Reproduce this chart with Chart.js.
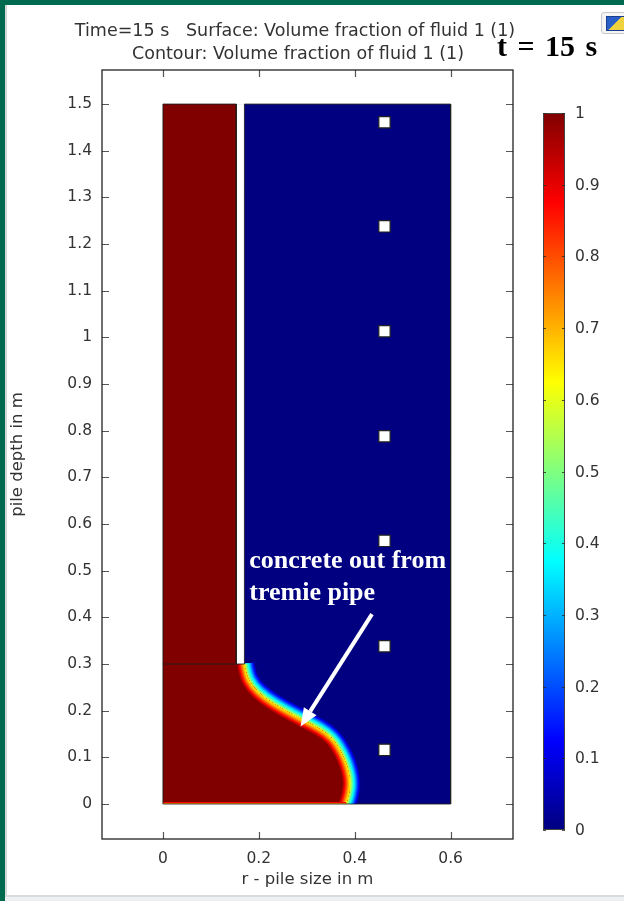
<!DOCTYPE html>
<html>
<head>
<meta charset="utf-8">
<script src="https://cdn.jsdelivr.net/npm/chart.js@4.4.1/dist/chart.umd.min.js"></script>
<style>
html, body { margin: 0; padding: 0; }
body { width: 624px; height: 901px; background: #006a4e; position: relative; overflow: hidden; font-family: "DejaVu Sans", sans-serif; }
#panel { position: absolute; left: 5px; top: 5px; width: 619px; height: 891px; background: #fff; border-left: 2px solid #d6d6d6; box-sizing: border-box; }
#foot { position: absolute; left: 5px; top: 895px; width: 619px; height: 6px; background: #eef0f2; border-top: 2px solid #d9dcdf; box-sizing: border-box; }
#chart { position: absolute; left: 0; top: 0; }
.title { position: absolute; width: 580px; text-align: center; white-space: pre; color: #333; font-size: 17.5px; line-height: 21px; }
#stamp { position: absolute; left: 497px; top: 31px; font: bold 30px "Liberation Serif", serif; line-height: 30px; word-spacing: 3px; color: #000; white-space: pre; }
#icon { position: absolute; left: 601px; top: 12px; width: 26px; height: 20px; border: 1px solid #c8c8c8; border-radius: 3px; background: #f4f4f4; }
#icon div { position: absolute; left: 4px; top: 3px; width: 18px; height: 13px; background: linear-gradient(135deg, #2a5fc8 0%, #2a5fc8 45%, #f0d23c 46%, #f0d23c 100%); border: 1px solid #1a3f90; }
</style>
</head>
<body>
<div id="panel"></div>
<div id="foot"></div>
<canvas id="chart" width="624" height="901"></canvas>
<div class="title" style="left:5px; top:20px;">Time=15 s   Surface: Volume fraction of fluid 1 (1)</div>
<div class="title" style="left:8px; top:43px;">Contour: Volume fraction of fluid 1 (1)</div>
<div id="stamp">t = 15 s</div>
<div id="icon"><div></div></div>
<script>
// axis ticks
const xTicks = [0, 0.2, 0.4, 0.6];
const yTicks = [0, 0.1, 0.2, 0.3, 0.4, 0.5, 0.6, 0.7, 0.8, 0.9, 1, 1.1, 1.2, 1.3, 1.4, 1.5];
const colorTicks = [0, 0.1, 0.2, 0.3, 0.4, 0.5, 0.6, 0.7, 0.8, 0.9, 1];

// pile geometry (m)
const pileR = 0.6;
const pileDepth = 1.5;
const pipeInnerR = 0.153;
const pipeOuterR = 0.17;
const pipeBottomZ = 0.3;

// concrete / water interface (0.6 contour), from pipe tip down to the base
const interfaceR = [0.170, 0.173, 0.186, 0.212, 0.250, 0.290, 0.328, 0.352, 0.366, 0.378, 0.387, 0.391, 0.388, 0.382];
const interfaceZ = [0.300, 0.278, 0.252, 0.227, 0.203, 0.181, 0.161, 0.142, 0.122, 0.098, 0.072, 0.045, 0.020, 0.000];

// point probes
const probeR = [0.462, 0.462, 0.462, 0.462, 0.462, 0.462, 0.462];
const probeZ = [0.116, 0.338, 0.564, 0.788, 1.013, 1.238, 1.461];

// annotation
const noteLines = ['concrete out from', 'tremie pipe'];
const noteAt = { r: 0.18, z: 0.506 };
const arrowFrom = { r: 0.436, z: 0.407 };
const arrowTo = { r: 0.287, z: 0.166 };

const textColor = '#333';
const tickFont = { family: 'DejaVu Sans', size: 15.5 };

function jet(v) {
    const c = t => Math.round(255 * Math.max(0, Math.min(1, t)));
    return 'rgb(' + c(1.5 - Math.abs(4 * v - 3)) + ',' + c(1.5 - Math.abs(4 * v - 2)) + ',' + c(1.5 - Math.abs(4 * v - 1)) + ')';
}

// smooth path through pixel points
function tracePath(ctx, pts) {
    ctx.moveTo(pts[0].x, pts[0].y);
    for (let i = 1; i < pts.length - 1; i++) {
        ctx.quadraticCurveTo(pts[i].x, pts[i].y, (pts[i].x + pts[i + 1].x) / 2, (pts[i].y + pts[i + 1].y) / 2);
    }
    ctx.lineTo(pts[pts.length - 1].x, pts[pts.length - 1].y);
}

// volume fraction field: water, concrete, smeared interface, pipe wall
const fieldPlugin = {
    id: 'field',
    beforeDatasetsDraw(chart) {
        const { ctx, scales: { x, y } } = chart;
        const X = v => x.getPixelForValue(v), Y = v => y.getPixelForValue(v);
        const iface = interfaceR.map((r, i) => ({ x: X(r), y: Y(interfaceZ[i]) }));
        ctx.save();
        ctx.beginPath();
        ctx.rect(X(0), Y(pileDepth), X(pileR) - X(0), Y(0) - Y(pileDepth));
        ctx.clip();
        ctx.fillStyle = jet(0);
        ctx.fillRect(X(0), Y(pileDepth), X(pileR) - X(0), Y(0) - Y(pileDepth));

        ctx.lineJoin = 'round';
        ctx.lineCap = 'butt';
        const bandOut = 11, bandIn = 8;
        for (let d = bandOut; d > 0; d -= 0.5) {
            ctx.strokeStyle = jet(0.62 * (1 - d / bandOut));
            ctx.lineWidth = 2 * d;
            ctx.beginPath();
            tracePath(ctx, iface);
            ctx.stroke();
        }
        ctx.beginPath();
        tracePath(ctx, iface);
        ctx.lineTo(X(0), Y(0));
        ctx.lineTo(X(0), Y(pipeBottomZ));
        ctx.closePath();
        ctx.fillStyle = jet(1);
        ctx.fill();
        ctx.save();
        ctx.clip();
        for (let d = bandIn; d > 0; d -= 0.5) {
            ctx.strokeStyle = jet(0.62 + 0.38 * d / bandIn);
            ctx.lineWidth = 2 * d;
            ctx.beginPath();
            tracePath(ctx, iface);
            ctx.stroke();
        }
        // thin wall layer along the base
        [[2, 0.88], [1, 0.72]].forEach(([d, v]) => {
            ctx.strokeStyle = jet(v);
            ctx.lineWidth = 2 * d;
            ctx.beginPath();
            ctx.moveTo(X(0), Y(0));
            ctx.lineTo(X(interfaceR[interfaceR.length - 1]), Y(0));
            ctx.stroke();
        });
        ctx.restore();

        ctx.fillStyle = jet(1);
        ctx.fillRect(X(0), Y(pileDepth), X(pipeInnerR) - X(0), Y(pipeBottomZ) - Y(pileDepth));
        ctx.fillStyle = '#fff';
        ctx.fillRect(X(pipeInnerR), Y(pileDepth), X(pipeOuterR) - X(pipeInnerR), Y(pipeBottomZ) - Y(pileDepth));
        ctx.restore();
    }
};

// white annotation + arrow over the field
const notePlugin = {
    id: 'note',
    afterDatasetsDraw(chart) {
        const { ctx, scales: { x, y } } = chart;
        const X = v => x.getPixelForValue(v), Y = v => y.getPixelForValue(v);
        ctx.save();
        ctx.fillStyle = '#fff';
        ctx.font = 'bold 26px "Liberation Serif", serif';
        ctx.textBaseline = 'alphabetic';
        noteLines.forEach((t, i) => ctx.fillText(t, X(noteAt.r), Y(noteAt.z) + i * 32));

        const x0 = X(arrowFrom.r), y0 = Y(arrowFrom.z), x1 = X(arrowTo.r), y1 = Y(arrowTo.z);
        const ang = Math.atan2(y1 - y0, x1 - x0);
        const head = 18, half = 7.5;
        ctx.strokeStyle = '#fff';
        ctx.lineWidth = 4;
        ctx.beginPath();
        ctx.moveTo(x0, y0);
        ctx.lineTo(x1 - head * Math.cos(ang), y1 - head * Math.sin(ang));
        ctx.stroke();
        ctx.beginPath();
        ctx.moveTo(x1, y1);
        ctx.lineTo(x1 - head * Math.cos(ang) + half * Math.sin(ang), y1 - head * Math.sin(ang) - half * Math.cos(ang));
        ctx.lineTo(x1 - head * Math.cos(ang) - half * Math.sin(ang), y1 - head * Math.sin(ang) + half * Math.cos(ang));
        ctx.closePath();
        ctx.fill();
        ctx.restore();
    }
};

// box frame with inward tick marks on all four sides
const framePlugin = {
    id: 'frame',
    afterDraw(chart) {
        const { ctx, chartArea: a, scales: { x, y } } = chart;
        ctx.save();
        ctx.strokeStyle = '#555';
        ctx.lineWidth = 1.2;
        ctx.beginPath();
        xTicks.forEach(v => {
            const px = Math.round(x.getPixelForValue(v)) + 0.5;
            ctx.moveTo(px, a.top); ctx.lineTo(px, a.top + 7);
            ctx.moveTo(px, a.bottom); ctx.lineTo(px, a.bottom - 7);
        });
        yTicks.forEach(v => {
            const py = Math.round(y.getPixelForValue(v)) + 0.5;
            ctx.moveTo(a.left, py); ctx.lineTo(a.left + 7, py);
            ctx.moveTo(a.right, py); ctx.lineTo(a.right - 7, py);
        });
        ctx.stroke();
        ctx.strokeStyle = '#222';
        ctx.lineWidth = 1.3;
        ctx.strokeRect(a.left, a.top, a.right - a.left, a.bottom - a.top);
        ctx.restore();
    }
};

// colour legend for the volume fraction
const colorBarPlugin = {
    id: 'colorBar',
    afterDraw(chart) {
        const ctx = chart.ctx;
        const left = 543, width = 22, top = 113, bottom = 830;
        const at = v => bottom - v * (bottom - top);
        const g = ctx.createLinearGradient(0, bottom, 0, top);
        [0, 0.125, 0.375, 0.625, 0.875, 1].forEach(s => g.addColorStop(s, jet(s)));
        ctx.save();
        ctx.fillStyle = g;
        ctx.fillRect(left, top, width, bottom - top);
        ctx.strokeStyle = '#444';
        ctx.lineWidth = 1;
        ctx.strokeRect(left + 0.5, top + 0.5, width - 1, bottom - top - 1);
        ctx.strokeStyle = 'rgba(40,40,40,0.8)';
        ctx.beginPath();
        colorTicks.forEach(v => {
            const py = Math.round(at(v)) + 0.5;
            ctx.moveTo(left, py); ctx.lineTo(left + 3, py);
            ctx.moveTo(left + width, py); ctx.lineTo(left + width - 3, py);
        });
        ctx.stroke();
        ctx.fillStyle = textColor;
        ctx.font = tickFont.size + 'px "DejaVu Sans"';
        ctx.textBaseline = 'middle';
        ctx.textAlign = 'left';
        colorTicks.forEach(v => ctx.fillText(String(v), left + width + 10, at(v) + 1));
        ctx.restore();
    }
};

const outline = (rs, zs) => rs.map((r, i) => ({ x: r, y: zs[i] }));
const lineStyle = { showLine: true, borderColor: 'rgba(30,30,30,0.85)', borderWidth: 1, pointRadius: 0, fill: false, tension: 0 };

new Chart(document.getElementById('chart'), {
    type: 'scatter',
    data: {
        datasets: [
            {
                label: 'probes',
                data: outline(probeR, probeZ),
                pointStyle: 'rect',
                pointRadius: 8,
                backgroundColor: '#fff',
                borderColor: '#222',
                borderWidth: 1.2
            },
            Object.assign({ label: 'column', data: outline([0, 0, pipeInnerR, pipeInnerR], [pipeBottomZ, pileDepth, pileDepth, pipeBottomZ]) }, lineStyle),
            Object.assign({ label: 'water', data: outline([pipeOuterR, pipeOuterR, pileR, pileR, 0, 0], [pipeBottomZ, pileDepth, pileDepth, 0, 0, pipeBottomZ]) }, lineStyle),
            Object.assign({ label: 'pipe tip', data: outline([0, pipeOuterR], [pipeBottomZ, pipeBottomZ]) }, lineStyle)
        ]
    },
    options: {
        responsive: false,
        animation: false,
        events: [],
        layout: { padding: { left: 0, right: 111, top: 70, bottom: 0 } },
        plugins: {
            legend: { display: false },
            tooltip: { enabled: false }
        },
        scales: {
            x: {
                type: 'linear',
                min: -0.127,
                max: 0.73,
                afterBuildTicks: s => { s.ticks = xTicks.map(v => ({ value: v })); },
                afterFit: s => { s.height = 62; },
                grid: { display: false },
                border: { display: false },
                ticks: { padding: 3, color: textColor, font: tickFont, maxRotation: 0, callback: v => String(v) },
                title: { display: true, text: 'r - pile size in m', color: textColor, font: { family: 'DejaVu Sans', size: 16.5 }, padding: { top: 0, bottom: 11 } }
            },
            y: {
                type: 'linear',
                min: -0.075,
                max: 1.573,
                afterBuildTicks: s => { s.ticks = yTicks.map(v => ({ value: v })); },
                afterFit: s => { s.width = 102; },
                grid: { display: false },
                border: { display: false },
                ticks: { padding: 2, color: textColor, font: tickFont, callback: v => String(v) },
                title: { display: true, text: 'pile depth in m', color: textColor, font: { family: 'DejaVu Sans', size: 16.5 }, padding: { top: 8, bottom: 0 } }
            }
        }
    },
    plugins: [fieldPlugin, notePlugin, framePlugin, colorBarPlugin]
});
</script>
</body>
</html>
